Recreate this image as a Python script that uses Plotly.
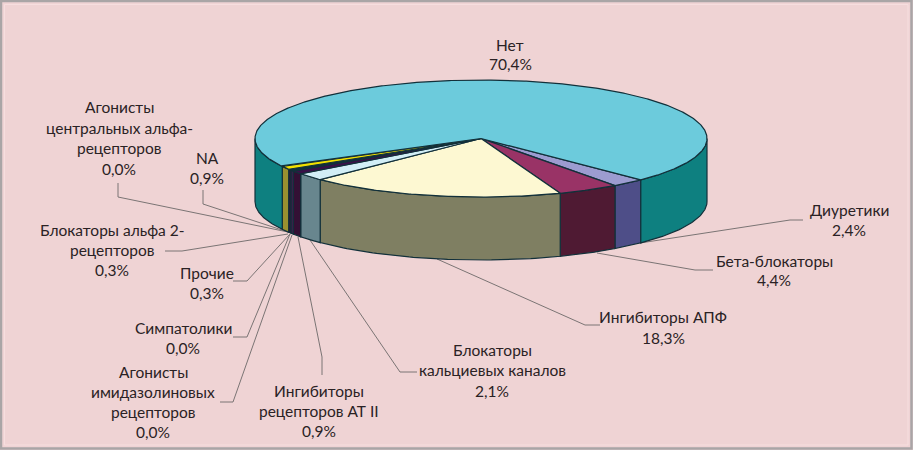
import numpy as np
import plotly.graph_objects as go

# ---- data (clockwise, starting at the front-right edge of "Нет") ----
categories = ["Диуретики", "Бета-блокаторы", "Ингибиторы АПФ", "Блокаторы кальциевых каналов",
              "Ингибиторы рецепторов АТ II", "Агонисты имидазолиновых рецепторов", "Симпатолики",
              "Прочие", "Блокаторы альфа 2-рецепторов", "NA", "Агонисты центральных альфа-рецепторов", "Нет"]
values = [2.4, 4.4, 18.3, 2.1, 0.9, 0.0, 0.0, 0.3, 0.3, 0.9, 0.0, 70.4]
top_colors = ["#9C9CD0", "#993366", "#FDF8D2", "#D2EEF6", "#3A1048", "#FF8080", "#0066CC",
              "#4A1060", "#2A1050", "#F2E000", "#C0C0C0", "#6CCBDC"]
side_colors = ["#4E4E88", "#4F1A33", "#7F7F62", "#68868E", "#331034", "#804040", "#003366",
               "#4A1A50", "#351038", "#9A9030", "#606060", "#0E8080"]

labels = [
    (["Нет", "70,4%"], 510, [45, 64]),
    (["Агонисты", "центральных альфа-", "рецепторов", "0,0%"], 119, [107, 128, 148, 169]),
    (["NA", "0,9%"], 207, [158, 178]),
    (["Блокаторы альфа 2-", "рецепторов", "0,3%"], 112, [230, 250, 270]),
    (["Прочие", "0,3%"], 207, [273, 293]),
    (["Симпатолики", "0,0%"], 183, [328, 348]),
    (["Агонисты", "имидазолиновых", "рецепторов", "0,0%"], 153, [372, 392, 412, 432]),
    (["Ингибиторы", "рецепторов АТ II", "0,9%"], 319, [391, 411, 431]),
    (["Блокаторы", "кальциевых каналов", "2,1%"], 492, [350, 370, 391]),
    (["Ингибиторы АПФ", "18,3%"], 663, [317, 338]),
    (["Бета-блокаторы", "4,4%"], 774, [261, 280]),
    (["Диуретики", "2,4%"], 849, [210, 230]),
]
leaders = [
    ([803, 790, 640], [220, 220, 243]),
    ([713, 695, 597], [270, 270, 253]),
    ([600, 585, 437], [325, 325, 259]),
    ([417, 400, 310], [372, 372, 240]),
    ([322, 322, 298], [375, 357, 237]),
    ([220, 233, 292], [402, 402, 235]),
    ([233, 247, 290], [337, 337, 234]),
    ([233, 247, 290], [281, 281, 234]),
    ([165, 182, 288], [251, 251, 234]),
    ([203, 203, 288], [190, 204, 232]),
    ([118, 118, 288], [183, 197, 232]),
]

# ---- geometry of the tilted pie ----
CX, CY, A, B, DEPTH = 481, 138.5, 226, 58.5, 63
START_DEG = 45
EDGE = "#12303A"
BG = "#EFD3D4"


def pt(phi_deg):
    p = np.radians(phi_deg)
    return CX + A * np.sin(p), CY + B * np.cos(p)


fig = go.Figure()

for xs, ys in leaders:
    fig.add_trace(go.Scatter(x=xs, y=ys, mode="lines", line=dict(color="#7A7474", width=1),
                             hoverinfo="skip", showlegend=False))

spans = []
phi = START_DEG
for v in values:
    next_phi = phi - v * 3.6
    spans.append((phi, next_phi))
    phi = next_phi


def add_side(a0, a1, color):
    arc = np.linspace(a0, a1, 60)
    x, y = pt(arc)
    fig.add_trace(go.Scatter(
        x=np.concatenate([x, x[::-1], x[:1]]),
        y=np.concatenate([y, y[::-1] + DEPTH, y[:1]]),
        mode="lines", fill="toself", fillcolor=color, line=dict(color=EDGE, width=1.2),
        hoverinfo="skip", showlegend=False))


for (a0, a1), v, c in zip(spans, values, side_colors):
    if v <= 0:
        continue
    # only the part of the rim facing the viewer (-90..90 degrees, modulo 360)
    for shift in (0, 360):
        lo = max(a1 + shift, -90)
        hi = min(a0 + shift, 90)
        if hi > lo:
            add_side(hi, lo, c)

for (a0, a1), v, c in zip(spans, values, top_colors):
    if v <= 0:
        continue
    arc = np.linspace(a0, a1, max(4, int(abs(a0 - a1) * 2)))
    x, y = pt(arc)
    fig.add_trace(go.Scatter(
        x=np.concatenate([[CX], x, [CX]]),
        y=np.concatenate([[CY], y, [CY]]),
        mode="lines", fill="toself", fillcolor=c, line=dict(color=EDGE, width=1.2),
        hoverinfo="skip", showlegend=False))

annotations = []
for lines, cx, ys in labels:
    for line, y in zip(lines, ys):
        annotations.append(dict(x=cx, y=y, text=line, showarrow=False, xanchor="center", yanchor="middle",
                                font=dict(family="Lato", size=15.5, color="#2A2224")))

frame = [
    dict(type="rect", x0=1, y0=1, x1=911.5, y1=448.5, line=dict(color="#A9A5A6", width=2.5), layer="above"),
    dict(type="rect", x0=4.5, y0=4.5, x1=908, y1=445, line=dict(color="#F6DEDF", width=1), layer="above"),
]

fig.update_layout(
    width=913, height=450, margin=dict(l=0, r=0, t=0, b=0),
    paper_bgcolor=BG, plot_bgcolor=BG, showlegend=False,
    xaxis=dict(range=[0, 913], visible=False, fixedrange=True),
    yaxis=dict(range=[450, 0], visible=False, fixedrange=True),
    annotations=annotations, shapes=frame,
)
fig.write_html("out.html", config={"displayModeBar": False},
               post_script="document.body.style.margin='0';document.body.style.overflow='hidden';")
